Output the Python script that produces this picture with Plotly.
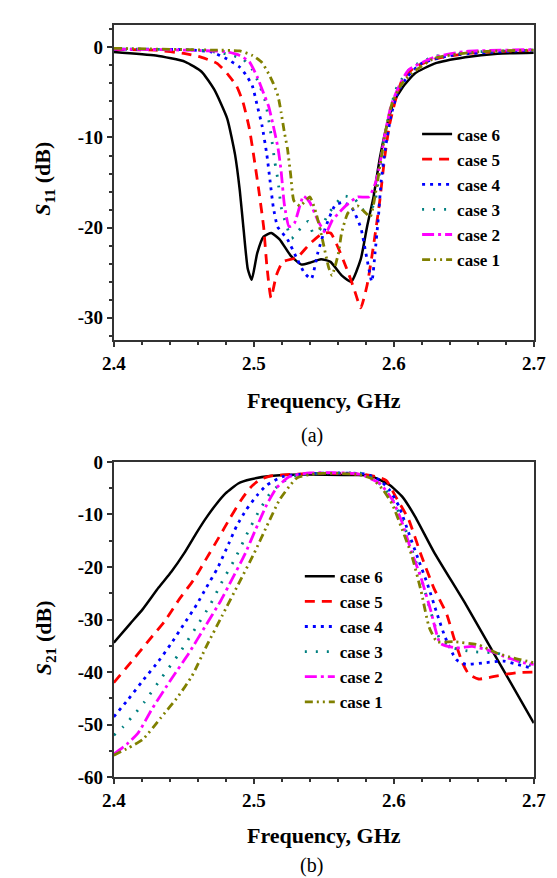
import plotly.graph_objects as go
from plotly.subplots import make_subplots

# ---- (a) S11 data, GHz / dB ----
s11_f6 = [2.400, 2.430, 2.451, 2.4627, 2.4718, 2.481, 2.4866, 2.490, 2.4927, 2.4957, 2.4985, 2.5025, 2.507,
          2.5125, 2.5184, 2.5263, 2.534, 2.540, 2.548, 2.5548, 2.5627, 2.5696, 2.5764, 2.5809, 2.5855, 2.590,
          2.5945, 2.600, 2.606, 2.615, 2.629, 2.651, 2.674, 2.700]
s11_v6 = [-0.5, -0.9, -1.6, -2.7, -4.7, -7.9, -11.9, -15.9, -20.2, -24.6, -25.8, -22.8, -21.0,
          -20.6, -21.3, -23.1, -24.1, -23.9, -23.5, -23.8, -25.3, -26.0, -23.5, -19.9, -16.6, -12.3,
          -9.0, -6.1, -4.5, -2.9, -1.8, -1.1, -0.7, -0.6]

s11_f5 = [2.400, 2.430, 2.451, 2.4627, 2.474, 2.482, 2.4877, 2.4923, 2.4968, 2.5002, 2.5036, 2.507, 2.5093,
          2.5123, 2.5161, 2.5207, 2.531, 2.540, 2.5485, 2.5548, 2.5672, 2.5718, 2.5764, 2.5809, 2.5855,
          2.590, 2.5934, 2.5968, 2.6013, 2.606, 2.615, 2.629, 2.651, 2.674, 2.700]
s11_v5 = [-0.25, -0.3, -0.7, -1.1, -1.8, -3.1, -4.3, -6.1, -9.0, -12.3, -15.9, -19.9, -24.2,
          -27.8, -25.3, -23.8, -23.3, -21.8, -20.7, -20.6, -24.9, -26.9, -28.9, -26.4, -22.0,
          -17.0, -12.3, -8.7, -5.8, -3.6, -2.2, -1.3, -0.7, -0.45, -0.35]

s11_f4 = [2.400, 2.450, 2.4695, 2.481, 2.490, 2.4946, 2.499, 2.5025, 2.5059, 2.5093, 2.5116, 2.5139, 2.517,
          2.524, 2.531, 2.536, 2.541, 2.5457, 2.5514, 2.5582, 2.5639, 2.570, 2.5764, 2.580, 2.5843,
          2.5866, 2.589, 2.591, 2.594, 2.598, 2.6025, 2.6095, 2.6195, 2.640, 2.700]
s11_v4 = [-0.2, -0.25, -0.5, -1.3, -2.2, -3.1, -4.3, -6.5, -8.7, -11.9, -14.8, -17.7, -19.9,
          -21.3, -23.5, -25.0, -25.7, -22.8, -19.9, -17.5, -17.2, -17.8, -20.0, -22.8, -26.0,
          -22.8, -18.8, -14.8, -11.2, -7.6, -5.1, -3.3, -1.8, -0.9, -0.3]

s11_f3 = [2.400, 2.460, 2.480, 2.4923, 2.499, 2.5036, 2.5082, 2.5105, 2.5127, 2.515, 2.5173, 2.5195, 2.523,
          2.527, 2.531, 2.5389, 2.5423, 2.5468, 2.5536, 2.5639, 2.5718, 2.5787, 2.5855, 2.589, 2.5923,
          2.597, 2.6025, 2.6127, 2.629, 2.660, 2.700]
s11_v3 = [-0.2, -0.3, -0.7, -1.3, -2.5, -4.0, -6.0, -7.9, -10.1, -12.7, -14.8, -17.7, -19.6,
          -21.2, -20.5, -19.3, -20.6, -20.3, -18.4, -16.5, -16.8, -18.1, -17.6, -14.8, -10.8,
          -7.2, -4.3, -2.2, -1.0, -0.5, -0.3]

s11_f2 = [2.400, 2.450, 2.481, 2.490, 2.4968, 2.5025, 2.507, 2.5105, 2.5139, 2.5173, 2.5195, 2.5218, 2.5252,
          2.529, 2.5355, 2.540, 2.5457, 2.5514, 2.556, 2.5605, 2.567, 2.5741, 2.5821, 2.5866, 2.590,
          2.5934, 2.598, 2.6025, 2.6105, 2.629, 2.651, 2.700]
s11_v2 = [-0.2, -0.3, -0.5, -0.9, -1.6, -3.3, -5.1, -6.5, -8.7, -11.2, -13.7, -17.4, -19.9,
          -19.5, -16.5, -17.2, -19.2, -20.6, -19.2, -18.4, -17.4, -16.6, -16.6, -15.2, -13.0,
          -9.8, -6.5, -4.7, -2.5, -1.1, -0.45, -0.25]

s11_f1 = [2.400, 2.470, 2.490, 2.499, 2.5059, 2.5105, 2.5139, 2.5173, 2.5195, 2.5218, 2.524, 2.5263, 2.5286,
          2.533, 2.540, 2.5445, 2.549, 2.5536, 2.5559, 2.5605, 2.5627, 2.5672, 2.5741, 2.5787, 2.5832,
          2.5877, 2.591, 2.5945, 2.599, 2.6059, 2.6127, 2.629, 2.660, 2.700]
s11_v1 = [-0.1, -0.3, -0.4, -0.9, -1.7, -2.9, -4.0, -5.4, -7.2, -9.4, -11.2, -14.1, -17.0,
          -17.6, -16.6, -18.4, -21.3, -24.5, -25.3, -22.8, -20.6, -18.4, -17.6, -18.2, -18.8,
          -15.5, -12.3, -9.0, -6.1, -4.0, -2.9, -1.2, -0.5, -0.3]

# ---- (b) S21 data ----
s21_f6 = [2.400, 2.4116, 2.4207, 2.432, 2.4411, 2.4502, 2.4593, 2.4661, 2.473, 2.4798, 2.4889, 2.498,
          2.5116, 2.5343, 2.570, 2.583, 2.597, 2.606, 2.615, 2.6286, 2.6514, 2.674, 2.700]
s21_v6 = [-34.4, -30.8, -28.0, -23.9, -20.9, -17.4, -13.4, -10.6, -8.1, -6.0, -4.1, -3.3,
          -2.7, -2.4, -2.5, -2.6, -4.4, -6.6, -10.3, -17.1, -27.1, -37.6, -49.7]

s21_f5 = [2.400, 2.4139, 2.4252, 2.4366, 2.4468, 2.4571, 2.4661, 2.4752, 2.4832, 2.4911, 2.4975, 2.5036,
          2.5116, 2.540, 2.580, 2.5945, 2.6013, 2.6105, 2.6195, 2.6286, 2.6377, 2.6434, 2.649, 2.6536,
          2.6605, 2.674, 2.6877, 2.700]
s21_v5 = [-42.0, -37.6, -33.9, -30.2, -26.1, -22.4, -18.4, -14.3, -10.6, -7.2, -4.9, -3.5,
          -2.7, -2.2, -2.4, -3.5, -6.6, -10.9, -17.7, -24.0, -28.9, -33.9, -38.2, -40.4,
          -41.3, -40.7, -40.1, -40.0]

s21_f4 = [2.400, 2.4105, 2.4207, 2.432, 2.4411, 2.4502, 2.4593, 2.4661, 2.4741, 2.482, 2.4877, 2.4946,
          2.5025, 2.5093, 2.5207, 2.540, 2.580, 2.590, 2.5968, 2.6036, 2.6105, 2.6173, 2.6241, 2.6309,
          2.6366, 2.6445, 2.6514, 2.665, 2.6786, 2.6877, 2.700]
s21_v4 = [-48.5, -45.1, -41.6, -37.9, -34.5, -30.8, -27.1, -23.9, -20.2, -15.6, -12.2, -9.1,
          -6.3, -4.4, -2.8, -2.2, -2.3, -3.5, -5.3, -8.4, -13.4, -18.4, -23.3, -28.9,
          -33.3, -37.6, -38.5, -38.2, -37.9, -38.5, -39.3]

s21_f3 = [2.400, 2.407, 2.415, 2.4218, 2.4343, 2.4468, 2.4582, 2.4684, 2.4775, 2.4866, 2.4957, 2.5036,
          2.5116, 2.5207, 2.531, 2.580, 2.5923, 2.5991, 2.6059, 2.6127, 2.6195, 2.6275, 2.6332, 2.6423,
          2.656, 2.674, 2.6855, 2.700]
s21_v3 = [-52.0, -50.3, -47.9, -45.7, -41.0, -36.4, -31.7, -27.4, -22.7, -18.4, -13.4, -9.4,
          -6.0, -3.8, -2.5, -2.3, -4.7, -7.2, -10.9, -16.5, -22.1, -29.5, -33.9, -35.4,
          -36.1, -36.4, -37.6, -39.0]

s21_f2 = [2.400, 2.4093, 2.4173, 2.4275, 2.4411, 2.4536, 2.465, 2.4764, 2.4843, 2.4934, 2.5014, 2.5093,
          2.5161, 2.5252, 2.540, 2.575, 2.590, 2.599, 2.6059, 2.6127, 2.6195, 2.6264, 2.6332, 2.6445,
          2.656, 2.6673, 2.6786, 2.6923, 2.700]
s21_v2 = [-55.6, -53.7, -51.6, -46.9, -41.3, -36.4, -31.4, -26.4, -22.4, -17.7, -12.8, -8.1,
          -5.0, -2.8, -2.1, -2.3, -4.1, -7.2, -11.5, -17.1, -22.1, -28.3, -34.5, -35.4,
          -35.1, -35.8, -37.0, -38.2, -38.5]

s21_f1 = [2.400, 2.4105, 2.4207, 2.4332, 2.4457, 2.4559, 2.4661, 2.4775, 2.4889, 2.5002, 2.5093, 2.5184,
          2.5252, 2.531, 2.545, 2.575, 2.585, 2.5923, 2.599, 2.6059, 2.6127, 2.6195, 2.6252, 2.6309,
          2.6423, 2.6605, 2.674, 2.6855, 2.700]
s21_v1 = [-55.8, -54.4, -52.8, -48.8, -44.7, -40.7, -35.1, -29.2, -23.3, -17.4, -12.2, -7.2,
          -4.7, -3.0, -2.2, -2.4, -3.3, -5.3, -8.1, -12.8, -17.7, -24.6, -31.4, -34.2,
          -34.2, -34.8, -36.4, -37.3, -38.2]

# tick labels (plain hyphen, like the original)
s11_ticks = [0, -10, -20, -30]
s11_ticktext = ["0", "-10", "-20", "-30"]
s21_ticks = [0, -10, -20, -30, -40, -50, -60]
s21_ticktext = ["0", "-10", "-20", "-30", "-40", "-50", "-60"]

names = ["case 6", "case 5", "case 4", "case 3", "case 2", "case 1"]
colors = ["black", "#ff0000", "#0000ff", "#008080", "#ff00ff", "#808000"]
dashes = ["solid", "10px,7px", "3px,5px", "2px,9px", "12px,4px,3px,4px", "8px,4px,2px,4px,2px,4px"]
s11 = [(s11_f6, s11_v6), (s11_f5, s11_v5), (s11_f4, s11_v4), (s11_f3, s11_v3), (s11_f2, s11_v2), (s11_f1, s11_v1)]
s21 = [(s21_f6, s21_v6), (s21_f5, s21_v5), (s21_f4, s21_v4), (s21_f3, s21_v3), (s21_f2, s21_v2), (s21_f1, s21_v1)]

FONT = "Liberation Serif"
AX = "#333333"

fig = make_subplots(rows=2, cols=1)
for i, name in enumerate(names):
    w = 2.5 if i == 0 else 2.8
    fig.add_trace(go.Scatter(x=s11[i][0], y=s11[i][1], mode="lines", name=name, legend="legend",
                             line=dict(color=colors[i], dash=dashes[i], width=w, shape="spline", smoothing=0.5)),
                  row=1, col=1)
    fig.add_trace(go.Scatter(x=s21[i][0], y=s21[i][1], mode="lines", name=name, legend="legend2",
                             line=dict(color=colors[i], dash=dashes[i], width=w, shape="spline", smoothing=0.5)),
                  row=2, col=1)

xcommon = dict(range=[2.4, 2.7], dtick=0.1, tickformat=".1f", ticks="outside", ticklen=5, tickwidth=1.5,
               tickcolor=AX, showline=True, linecolor=AX, linewidth=1.8, mirror=True, showgrid=False,
               zeroline=False, tickfont=dict(family=FONT, size=19, color="black", weight="bold"),
               minor=dict(dtick=0.02, ticks="outside", ticklen=3, tickcolor=AX))
ycommon = dict(ticks="outside", ticklen=5, tickwidth=1.5, tickcolor=AX, showline=True, linecolor=AX,
               linewidth=1.8, mirror=True, showgrid=False, zeroline=False,
               tickfont=dict(family=FONT, size=19, color="black", weight="bold"))

fig.update_xaxes(domain=[0.176, 0.964], **xcommon)
fig.update_yaxes(**ycommon)
fig.update_layout(
    yaxis=dict(domain=[0.624, 0.992], range=[-32.5, 2.5], tickvals=s11_ticks, ticktext=s11_ticktext,
               minor=dict(dtick=2, tick0=0, ticks="outside", ticklen=3, tickcolor=AX)),
    yaxis2=dict(domain=[0.114, 0.482], range=[-60, 0], tickvals=s21_ticks, ticktext=s21_ticktext,
                minor=dict(dtick=5, tick0=0, ticks="outside", ticklen=3, tickcolor=AX)),
)

# inward ticks on the right and top frame, as in the original figure
inner = dict(ticks="inside", ticklen=4, tickwidth=1.2, tickcolor=AX, showticklabels=False,
             showgrid=False, zeroline=False, showline=False)
fig.update_layout(
    yaxis3=dict(overlaying="y", side="right", anchor="x", range=[-32.5, 2.5], dtick=2, tick0=0, **inner),
    yaxis4=dict(overlaying="y2", side="right", anchor="x2", range=[-60, 0], dtick=5, **inner),
    xaxis3=dict(overlaying="x", side="top", anchor="y", range=[2.4, 2.7], dtick=0.02, tick0=2.4, **inner),
    xaxis4=dict(overlaying="x2", side="top", anchor="y2", range=[2.4, 2.7], dtick=0.02, tick0=2.4, **inner),
)

legend_style = dict(font=dict(family=FONT, size=17, color="black", weight="bold"), bgcolor="rgba(0,0,0,0)",
                    tracegroupgap=0, itemwidth=30, xanchor="left", yanchor="top")
fig.update_layout(
    legend=dict(x=0.745, y=0.885, **legend_style),
    legend2=dict(x=0.525, y=0.369, **legend_style),
)

annos = [
    dict(x=0.57, y=0.5535, text="Frequency, GHz", size=22, weight="bold"),
    dict(x=0.57, y=0.0465, text="Frequency, GHz", size=22, weight="bold"),
    dict(x=0.547, y=0.5125, text="(a)", size=20, weight="normal"),
    dict(x=0.547, y=0.011, text="(b)", size=20, weight="normal"),
    dict(x=0.046, y=0.812, text="<i>S</i><sub>11</sub> (dB)", size=22, weight="bold", textangle=-90),
    dict(x=0.046, y=0.277, text="<i>S</i><sub>21</sub> (dB)", size=22, weight="bold", textangle=-90),
]
for a in annos:
    size = a.pop("size")
    weight = a.pop("weight")
    fig.add_annotation(xref="paper", yref="paper", showarrow=False, xanchor="center", yanchor="middle",
                       font=dict(family=FONT, size=size, color="black", weight=weight), **a)

fig.update_layout(width=557, height=878, margin=dict(l=0, r=0, t=0, b=0),
                  paper_bgcolor="white", plot_bgcolor="white", font=dict(family=FONT))

fig.write_html("out.html")
